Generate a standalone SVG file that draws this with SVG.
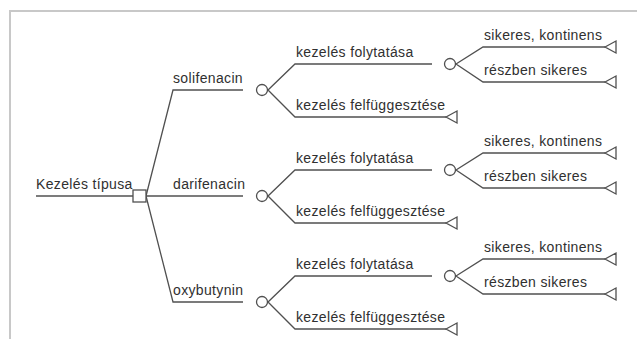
<svg xmlns="http://www.w3.org/2000/svg" width="637" height="339" viewBox="0 0 637 339">
<style>
.frame{stroke:#c8c8c8;stroke-width:2;fill:none}
.ln{stroke:#505050;stroke-width:1.3;fill:none}
.nd{stroke:#505050;stroke-width:1.3;fill:#fff}
text{font-family:"Liberation Sans",Arial,sans-serif;font-size:14px;letter-spacing:0.35px;fill:#303030}
</style>
<defs>
<polygon id="term" class="nd" points="0,0 11,-6 11,6"/>
<circle id="chance" class="nd" r="5.5"/>
</defs>
<rect width="637" height="339" fill="#fff"/>
<path class="frame" d="M10,339 V11 H637"/>
<g id="connectors">
<path class="ln" d="M36,196 H133"/>
<path class="ln" d="M146,196 L173,90 H243"/>
<path class="ln" d="M146,196 H243"/>
<path class="ln" d="M146,196 L173,302 H243"/>
<path class="ln" d="M268,90 L295,64 H432 M268,90 L295,117 H446"/>
<path class="ln" d="M456,64 L483,47 H605 M456,64 L483,82 H605"/>
<path class="ln" d="M268,196 L295,170 H432 M268,196 L295,223 H446"/>
<path class="ln" d="M456,170 L483,153 H605 M456,170 L483,188 H605"/>
<path class="ln" d="M268,302 L295,276 H432 M268,302 L295,329 H446"/>
<path class="ln" d="M456,276 L483,259 H605 M456,276 L483,294 H605"/>
</g>
<g id="root">
<text x="36" y="189">Kezelés típusa</text>
<rect class="nd" x="133" y="190" width="13" height="12"/>
</g>
<g id="solifenacin">
<text x="173" y="83">solifenacin</text>
<use href="#chance" x="262" y="90"/>
</g>
<g id="solifenacin-folytatasa">
<text x="296" y="57">kezelés folytatása</text>
<use href="#chance" x="450" y="64"/>
</g>
<g id="solifenacin-sikeres"><text x="484" y="40">sikeres, kontinens</text><use href="#term" x="605" y="47"/></g>
<g id="solifenacin-reszben"><text x="484" y="75">részben sikeres</text><use href="#term" x="605" y="82"/></g>
<g id="solifenacin-felf"><text x="296" y="110">kezelés felfüggesztése</text><use href="#term" x="446" y="117"/></g>
<g id="darifenacin">
<text x="173" y="189">darifenacin</text>
<use href="#chance" x="262" y="196"/>
</g>
<g id="darifenacin-folytatasa">
<text x="296" y="163">kezelés folytatása</text>
<use href="#chance" x="450" y="170"/>
</g>
<g id="darifenacin-sikeres"><text x="484" y="146">sikeres, kontinens</text><use href="#term" x="605" y="153"/></g>
<g id="darifenacin-reszben"><text x="484" y="181">részben sikeres</text><use href="#term" x="605" y="188"/></g>
<g id="darifenacin-felf"><text x="296" y="216">kezelés felfüggesztése</text><use href="#term" x="446" y="223"/></g>
<g id="oxybutynin">
<text x="173" y="295">oxybutynin</text>
<use href="#chance" x="262" y="302"/>
</g>
<g id="oxybutynin-folytatasa">
<text x="296" y="269">kezelés folytatása</text>
<use href="#chance" x="450" y="276"/>
</g>
<g id="oxybutynin-sikeres"><text x="484" y="252">sikeres, kontinens</text><use href="#term" x="605" y="259"/></g>
<g id="oxybutynin-reszben"><text x="484" y="287">részben sikeres</text><use href="#term" x="605" y="294"/></g>
<g id="oxybutynin-felf"><text x="296" y="322">kezelés felfüggesztése</text><use href="#term" x="446" y="329"/></g>
</svg>
